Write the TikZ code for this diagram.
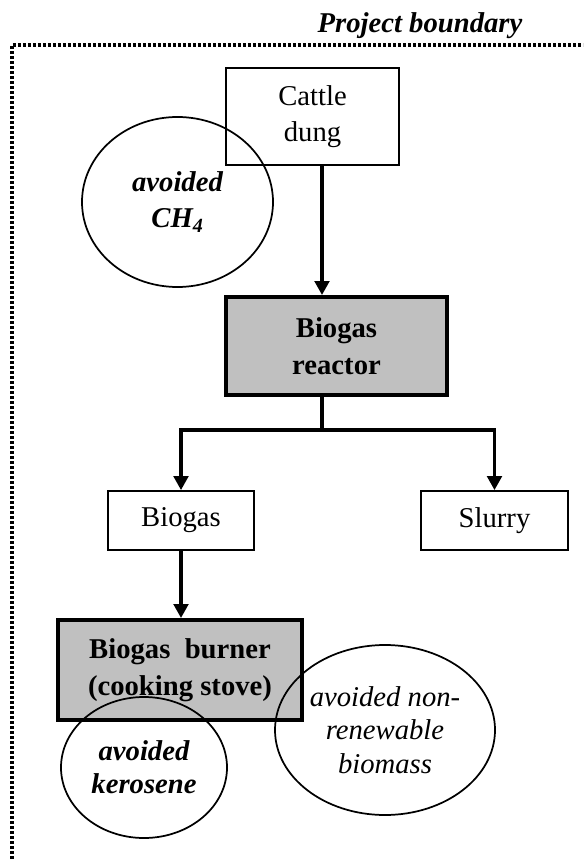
\documentclass[tikz,border=0pt]{standalone}
\usepackage{fontspec}
\setmainfont{Liberation Serif}
\usetikzlibrary{positioning,arrows.meta,shapes.geometric}
\definecolor{boxgray}{HTML}{C0C0C0}

\begin{document}
\begin{tikzpicture}[
    x=0.75pt, y=-0.75pt,
    font=\fontsize{21.5}{27}\selectfont,
    plainbox/.style={draw, line width=1.4pt, fill=white, align=center, inner sep=0pt},
    mainbox/.style={draw, line width=3pt, fill=boxgray, align=center, inner sep=0pt, font=\fontsize{21.5}{28}\selectfont\bfseries},
    avoided/.style={draw, ellipse, line width=1.3pt, align=center, inner sep=0pt, font=\fontsize{21.5}{25}\selectfont\itshape},
    flow/.style={line width=2.3pt, -{Triangle[length=10.5pt,width=11pt]}},
    boundary/.style={line width=2.3pt, dash pattern=on 2.1pt off 1.65pt}
]
\useasboundingbox (0,0) rectangle (583,859);

% project boundary
\draw[boundary] (12,859) -- (12,45) -- (583,45);
\node[font=\fontsize{21.5}{26}\selectfont\itshape\bfseries] (boundarylabel) at (420,26) {Project boundary};

% boxes
\node[plainbox, minimum width=129.75pt, minimum height=72.75pt] (dung) at (312.5,116.5) {Cattle\\dung};
\node[mainbox, minimum width=165.75pt, minimum height=73.5pt] (reactor) at (336.5,346) {Biogas\\reactor};
\node[plainbox, minimum width=109.5pt, minimum height=44.25pt] (biogas) at (181,520.5) {Biogas};
\node[plainbox, minimum width=110.25pt, minimum height=44.25pt] (slurry) at (494.5,520.5) {Slurry};
\node[mainbox, minimum width=183pt, minimum height=75pt] (burner) at (180,670) {Biogas~~burner\\(cooking stove)};

\coordinate (trunk) at (322,430);

\draw[flow] (dung.south -| trunk) -- (reactor.north -| trunk);
\draw[line width=2.3pt] (reactor.south -| trunk) -- (trunk);
\draw[flow] (trunk) -| (biogas);
\draw[flow] (trunk) -| (slurry);
\draw[flow] (biogas) -- (burner.north -| biogas);

% avoided emissions
\node[avoided, minimum width=143.25pt, minimum height=127.5pt, font=\fontsize{21.5}{27}\selectfont\itshape\bfseries] (ch4) at (177.5,202) {avoided\\CH\textsubscript{4}};
\node[avoided, minimum width=124.5pt, minimum height=105.75pt, font=\fontsize{21.5}{25}\selectfont\itshape\bfseries] (kerosene) at (144,767.5) {avoided\\kerosene};
\node[avoided, minimum width=165pt, minimum height=127.5pt] (biomass) at (385,730) {avoided non-\\renewable\\biomass};

\end{tikzpicture}
\end{document}
